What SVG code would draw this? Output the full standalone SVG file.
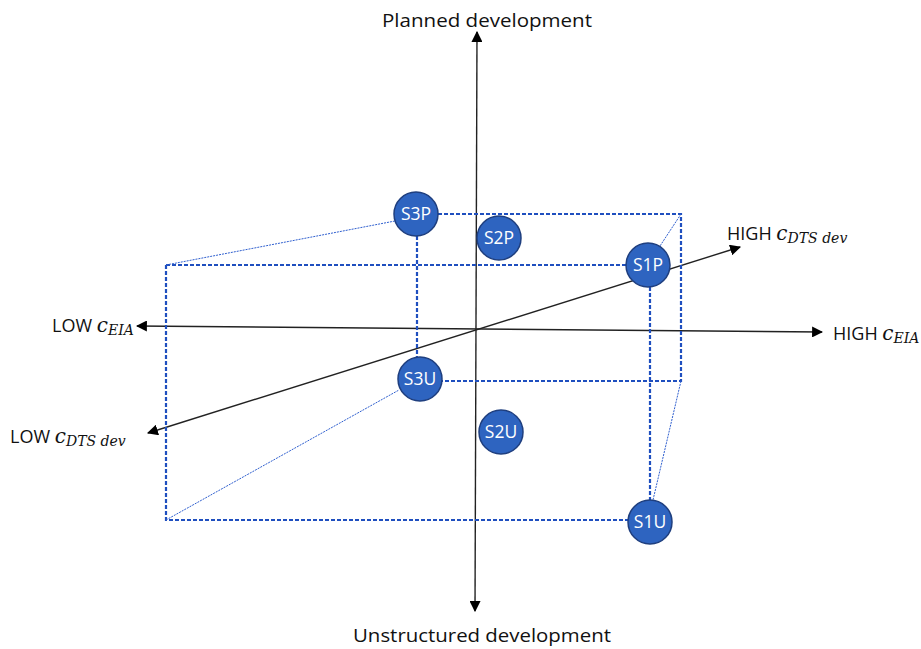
<svg xmlns="http://www.w3.org/2000/svg" width="921" height="649" viewBox="0 0 921 649">
<defs>
<marker id="ah" viewBox="0 0 10 10" refX="9" refY="5" markerWidth="11" markerHeight="11" markerUnits="userSpaceOnUse" orient="auto-start-reverse">
<path d="M0,0 L10,5 L0,10 z" fill="#000"/>
</marker>
</defs>
<style>
.axis{stroke:#222;stroke-width:1.4;fill:none}
.dash{stroke:#1f4fbf;stroke-width:2.2;stroke-dasharray:4 2;fill:none}
.dot{stroke:#2f5fcf;stroke-width:1;stroke-dasharray:2 1;fill:none}
.node circle{fill:#2e64c0;stroke:#1f3f7f;stroke-width:1.5}
.node text{fill:#fff;font-family:"Open Sans","Liberation Sans",sans-serif;font-size:17.5px;text-anchor:middle}
.lbl{font-family:"Open Sans","Liberation Sans",sans-serif;font-size:18px;fill:#111}
.m{font-family:"DejaVu Serif","Liberation Serif",serif;font-style:italic}
</style>
<rect width="921" height="649" fill="#fff"/>
<g id="connectors">
<line class="axis" x1="475" y1="611" x2="477" y2="32" marker-start="url(#ah)" marker-end="url(#ah)"/>
<line class="axis" x1="822" y1="332" x2="137" y2="326" marker-start="url(#ah)" marker-end="url(#ah)"/>
<line class="axis" x1="148" y1="433" x2="740" y2="247" marker-start="url(#ah)" marker-end="url(#ah)"/>
<path class="dash" d="M438,214 H681 V381 H442"/>
<path class="dash" d="M417,236 V357"/>
<path class="dash" d="M166,265 H626 M166,265 V520 H628 M650,287 V500"/>
<line class="dot" x1="166" y1="265" x2="395" y2="221"/>
<line class="dot" x1="681" y1="214" x2="660" y2="246"/>
<line class="dot" x1="681" y1="381" x2="653" y2="500"/>
<line class="dot" x1="166" y1="520" x2="399" y2="390"/>
</g>
<g id="S3P" class="node"><circle cx="416" cy="214" r="22"/><text x="416" y="220">S3P</text></g>
<g id="S2P" class="node"><circle cx="499" cy="238" r="22"/><text x="499" y="244">S2P</text></g>
<g id="S1P" class="node"><circle cx="648" cy="265" r="22"/><text x="648" y="271">S1P</text></g>
<g id="S3U" class="node"><circle cx="420" cy="379" r="22"/><text x="420" y="385">S3U</text></g>
<g id="S2U" class="node"><circle cx="501" cy="432" r="22"/><text x="501" y="438">S2U</text></g>
<g id="S1U" class="node"><circle cx="650" cy="522" r="22"/><text x="650" y="528">S1U</text></g>
<g id="labels">
<text class="lbl" x="487" y="27" text-anchor="middle" textLength="210" lengthAdjust="spacingAndGlyphs">Planned development</text>
<text class="lbl" x="482" y="642" text-anchor="middle" textLength="258" lengthAdjust="spacingAndGlyphs">Unstructured development</text>
<text class="lbl" x="52" y="332">LOW <tspan class="m" font-size="20">c</tspan><tspan class="m" font-size="14" dy="3">EIA</tspan></text>
<text class="lbl" x="833" y="340">HIGH <tspan class="m" font-size="20">c</tspan><tspan class="m" font-size="14" dy="3">EIA</tspan></text>
<text class="lbl" x="727" y="240">HIGH <tspan class="m" font-size="20">c</tspan><tspan class="m" font-size="14" dy="3">DTS dev</tspan></text>
<text class="lbl" x="10" y="443">LOW <tspan class="m" font-size="20">c</tspan><tspan class="m" font-size="14" dy="3">DTS dev</tspan></text>
</g>
</svg>
